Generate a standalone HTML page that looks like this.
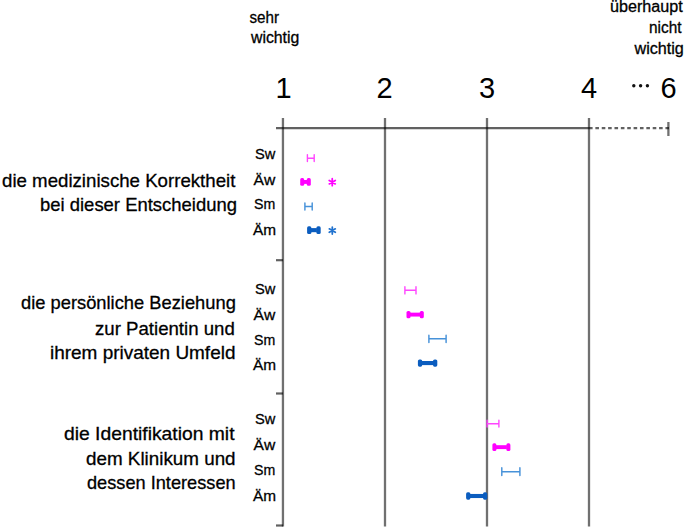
<!DOCTYPE html>
<html>
<head>
<meta charset="utf-8">
<style>
html,body{margin:0;padding:0;background:#fff;}
body{width:685px;height:528px;overflow:hidden;position:relative;}
svg{position:absolute;left:0;top:0;display:block;}
text{font-family:"Liberation Sans",sans-serif;fill:#000;}
.t{stroke:#000;stroke-width:0.3px;}
</style>
</head>
<body>
<svg width="685" height="528" viewBox="0 0 685 528">
  <!-- header + item label texts -->
  <g class="t">
    <text x="249.49" y="22.5" font-size="16" textLength="29.56" lengthAdjust="spacingAndGlyphs">sehr</text>
    <text x="250.99" y="42.9" font-size="16" textLength="48.32" lengthAdjust="spacingAndGlyphs">wichtig</text>
    <text x="609.99" y="12.3" font-size="16" textLength="72.66" lengthAdjust="spacingAndGlyphs">überhaupt</text>
    <text x="649.00" y="33.3" font-size="16" textLength="32.44" lengthAdjust="spacingAndGlyphs">nicht</text>
    <text x="634.49" y="53.5" font-size="16" textLength="49.33" lengthAdjust="spacingAndGlyphs">wichtig</text>
    <text x="2.00" y="186.7" font-size="19" textLength="233.41" lengthAdjust="spacingAndGlyphs">die medizinische Korrektheit</text>
    <text x="40.02" y="211.4" font-size="19" textLength="196.94" lengthAdjust="spacingAndGlyphs">bei dieser Entscheidung</text>
    <text x="21.00" y="309.4" font-size="19" textLength="214.84" lengthAdjust="spacingAndGlyphs">die persönliche Beziehung</text>
    <text x="95.01" y="334.6" font-size="19" textLength="139.76" lengthAdjust="spacingAndGlyphs">zur Patientin und</text>
    <text x="50.00" y="358.6" font-size="19" textLength="185.43" lengthAdjust="spacingAndGlyphs">ihrem privaten Umfeld</text>
    <text x="63.99" y="440.3" font-size="19" textLength="170.51" lengthAdjust="spacingAndGlyphs">die Identifikation mit</text>
    <text x="86.00" y="464.7" font-size="19" textLength="149.60" lengthAdjust="spacingAndGlyphs">dem Klinikum und</text>
    <text x="87.01" y="489.4" font-size="19" textLength="148.61" lengthAdjust="spacingAndGlyphs">dessen Interessen</text>
    <text x="255.03" y="159.2" font-size="15.5" textLength="20.33" lengthAdjust="spacingAndGlyphs">Sw</text>
    <text x="253.50" y="184.6" font-size="15.5" textLength="21.74" lengthAdjust="spacingAndGlyphs">Äw</text>
    <text x="254.02" y="209.4" font-size="15.5" textLength="21.23" lengthAdjust="spacingAndGlyphs">Sm</text>
    <text x="252.99" y="235.0" font-size="15.5" textLength="23.07" lengthAdjust="spacingAndGlyphs">Äm</text>
    <text x="255.03" y="294.2" font-size="15.5" textLength="20.33" lengthAdjust="spacingAndGlyphs">Sw</text>
    <text x="253.50" y="319.7" font-size="15.5" textLength="21.74" lengthAdjust="spacingAndGlyphs">Äw</text>
    <text x="254.02" y="344.6" font-size="15.5" textLength="21.23" lengthAdjust="spacingAndGlyphs">Sm</text>
    <text x="252.99" y="370.4" font-size="15.5" textLength="23.07" lengthAdjust="spacingAndGlyphs">Äm</text>
    <text x="255.03" y="424.4" font-size="15.5" textLength="20.33" lengthAdjust="spacingAndGlyphs">Sw</text>
    <text x="253.50" y="450.0" font-size="15.5" textLength="21.74" lengthAdjust="spacingAndGlyphs">Äw</text>
    <text x="254.02" y="475.0" font-size="15.5" textLength="21.23" lengthAdjust="spacingAndGlyphs">Sm</text>
    <text x="252.99" y="500.8" font-size="15.5" textLength="23.07" lengthAdjust="spacingAndGlyphs">Äm</text>
  </g>
  <!-- axis numbers -->
  <g font-size="29" text-anchor="middle">
    <text x="283.5" y="98">1</text>
    <text x="384.5" y="98">2</text>
    <text x="487" y="97.5">3</text>
    <text x="589" y="97.5">4</text>
    <text x="668.5" y="97.5">6</text>
  </g>
  <g fill="#111">
    <circle cx="633.8" cy="85.7" r="1.7"/>
    <circle cx="640.6" cy="85.7" r="1.7"/>
    <circle cx="647.4" cy="85.7" r="1.7"/>
  </g>

  <!-- grid -->
  <g stroke="#000" fill="none">
    <g stroke-opacity="0.56" stroke-width="2.3">
    <line x1="282.95" y1="118" x2="282.95" y2="526.5"/>
    <line x1="385" y1="118" x2="385" y2="526.5"/>
    <line x1="487" y1="118" x2="487" y2="526.5"/>
    <line x1="589" y1="118" x2="589" y2="526.5"/>
    <line x1="668.4" y1="122" x2="668.4" y2="136"/>
    </g>
    <g stroke-opacity="0.62" stroke-width="2.2">
    <line x1="276" y1="128.2" x2="589" y2="128.2"/>
    <line x1="276" y1="260.2" x2="283" y2="260.2"/>
    <line x1="276" y1="393.5" x2="283" y2="393.5"/>
    <line x1="276" y1="525.5" x2="283" y2="525.5"/>
    <line x1="589" y1="128.2" x2="669" y2="128.2" stroke-dasharray="3.6 2.77"/>
    </g>
  </g>

  <!-- row labels -->
  <g font-size="15.5" text-anchor="end" class="t">
    
  </g>

  <!-- markers -->
  <g stroke="#ff45ff" stroke-width="1.4" fill="none" stroke-linecap="round"><path d="M307.4 154.6V161.6M314.2 154.6V161.6M307.4 158.2H314.2"/><path d="M404.9 286.8V293.9M416.0 286.8V293.9M404.9 290.3H416.0"/><path d="M487.1 420.3V427.1M498.9 420.3V427.1M487.1 423.7H498.9"/></g>
  <g stroke="#4792d9" stroke-width="1.45" fill="none" stroke-linecap="round"><path d="M304.9 202.9V210.0M312.2 202.9V210.0M304.9 206.4H312.2"/><path d="M428.9 335.3V342.5M446.1 335.3V342.5M428.9 338.8H446.1"/><path d="M501.8 467.7V475.6M519.9 467.7V475.6M501.8 471.8H519.9"/></g>
  <g fill="#ff00ff"><rect x="300.2" y="178.1" width="4.0" height="7.70" rx="1.6"/><rect x="306.80" y="178.1" width="4.0" height="7.70" rx="1.6"/><rect x="303.70" y="180.00" width="3.60" height="3.9"/><rect x="406.5" y="310.9" width="4.0" height="7.40" rx="1.6"/><rect x="419.80" y="310.9" width="4.0" height="7.40" rx="1.6"/><rect x="410.00" y="312.65" width="10.30" height="3.9"/><rect x="492.4" y="443.3" width="4.0" height="7.70" rx="1.6"/><rect x="506.40" y="443.3" width="4.0" height="7.70" rx="1.6"/><rect x="495.90" y="445.20" width="11.00" height="3.9"/></g>
  <g fill="#0b5dbf"><rect x="307.1" y="226.3" width="4.3" height="7.70" rx="1.6"/><rect x="316.40" y="226.3" width="4.3" height="7.70" rx="1.6"/><rect x="310.90" y="228.10" width="6.00" height="4.1"/><rect x="417.9" y="359.4" width="4.3" height="7.30" rx="1.6"/><rect x="433.00" y="359.4" width="4.3" height="7.30" rx="1.6"/><rect x="421.70" y="361.00" width="11.80" height="4.1"/><rect x="466.1" y="492.3" width="4.3" height="7.40" rx="1.6"/><rect x="483.00" y="492.3" width="4.3" height="7.40" rx="1.6"/><rect x="469.90" y="493.95" width="13.60" height="4.1"/></g>
  <g stroke-linecap="round" stroke-width="1.75" fill="none"><path stroke="#ff00ff" d="M332.25 178.65V185.65M329.22 180.40L335.28 183.90M329.22 183.90L335.28 180.40"/><path stroke="#2273cf" d="M332.3 227.1V234.1M329.27 228.85L335.33 232.35M329.27 232.35L335.33 228.85"/></g>
</svg>
</body>
</html>
